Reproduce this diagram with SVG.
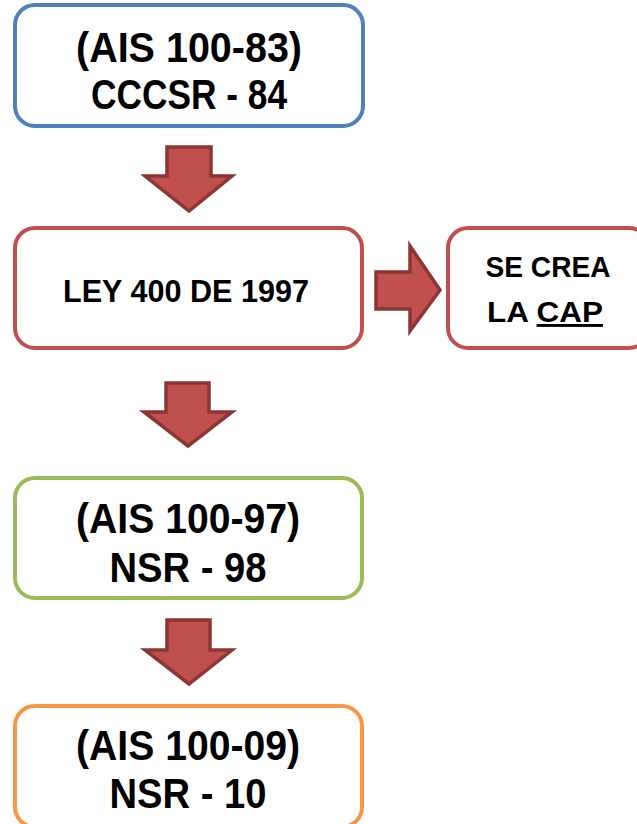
<svg xmlns="http://www.w3.org/2000/svg" width="637" height="824" viewBox="0 0 637 824">
<defs>
<style>
.box{fill:#fff;stroke-width:4}
.blue{stroke:#4F81BD}
.red{stroke:#C0504D}
.green{stroke:#9BBB59}
.orange{stroke:#F79646}
.t{font-family:"Liberation Sans",Arial,sans-serif;font-weight:bold;fill:#000;text-anchor:middle}
.big{font-size:43px}
.arrow{fill:#C0504D;stroke:#8C3533;stroke-width:3.5;stroke-linejoin:miter}
</style>
</defs>
<rect width="637" height="824" fill="#fff"/>
<g id="connectors">
<polygon class="arrow" points="167,147 211,147 211,176 232,176 189,211 145,176 167,176"/>
<polygon class="arrow" points="166,383 209,383 209,412 232,412 188,446 144,412 166,412"/>
<polygon class="arrow" points="167,620 210,620 210,650 232,650 189,684 145,650 167,650"/>
<polygon class="arrow" points="376,272 410,272 410,246 440,290 410,331 410,309 376,309"/>
</g>
<g id="node1">
<rect class="box blue" x="15" y="5" width="348" height="121" rx="20"/>
<text class="t big" x="189" y="62" textLength="226" lengthAdjust="spacingAndGlyphs">(AIS 100-83)</text>
<text class="t big" x="189" y="109" textLength="196" lengthAdjust="spacingAndGlyphs">CCCSR - 84</text>
</g>
<g id="node2">
<rect class="box red" x="15" y="228" width="347" height="120" rx="20"/>
<text class="t" x="186" y="302" font-size="31" textLength="246" lengthAdjust="spacingAndGlyphs">LEY 400 DE 1997</text>
</g>
<g id="node3">
<rect class="box red" x="448" y="228" width="201" height="120" rx="20"/>
<text class="t" x="548" y="277" font-size="29" textLength="125" lengthAdjust="spacingAndGlyphs">SE CREA</text>
<text class="t" x="545" y="322" font-size="29" textLength="116" lengthAdjust="spacingAndGlyphs"><tspan>LA </tspan><tspan text-decoration="underline">CAP</tspan></text>
</g>
<g id="node4">
<rect class="box green" x="15" y="478" width="347" height="120" rx="20"/>
<text class="t big" x="188" y="533" textLength="224" lengthAdjust="spacingAndGlyphs">(AIS 100-97)</text>
<text class="t big" x="188" y="582" textLength="157" lengthAdjust="spacingAndGlyphs">NSR - 98</text>
</g>
<g id="node5">
<rect class="box orange" x="15" y="706" width="347" height="121" rx="20"/>
<text class="t big" x="188" y="760" textLength="224" lengthAdjust="spacingAndGlyphs">(AIS 100-09)</text>
<text class="t big" x="188" y="808" textLength="157" lengthAdjust="spacingAndGlyphs">NSR - 10</text>
</g>
</svg>
